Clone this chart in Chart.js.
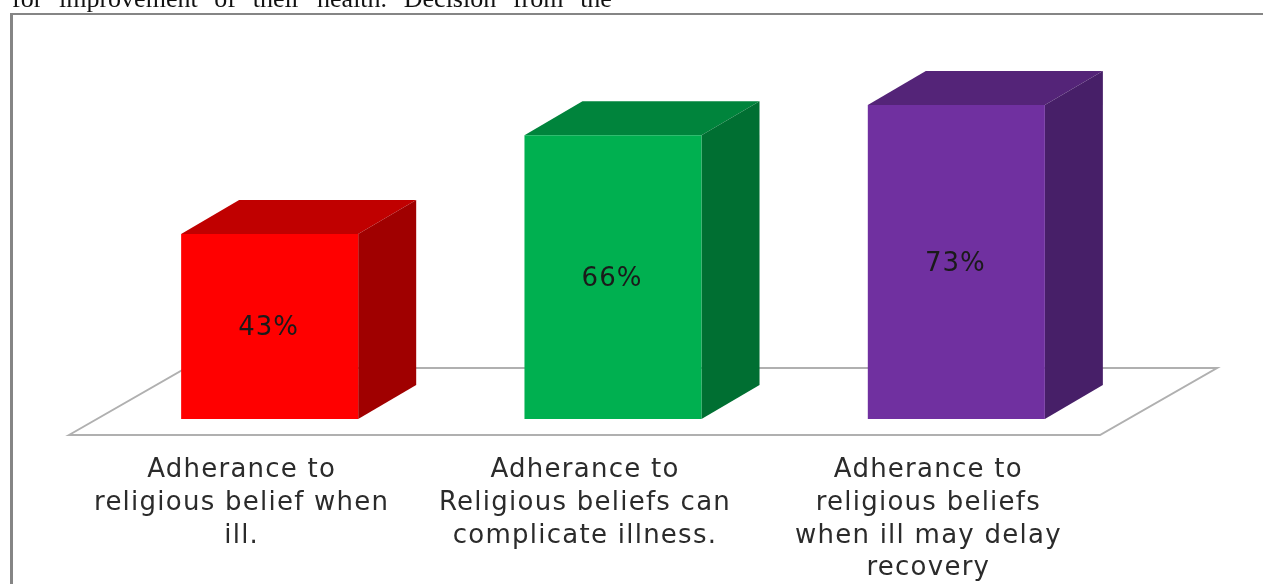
<!DOCTYPE html>
<html>
<head>
<meta charset="utf-8">
<style>
  html, body { margin: 0; padding: 0; background: #fff; overflow: hidden; }
  #page { position: relative; width: 1263px; height: 584px; overflow: hidden; }
  #lead { position: absolute; left: 12px; top: -16px; white-space: nowrap; color: #111;
          font: 26px "Liberation Serif", serif; word-spacing: 10.2px; }
  #frame { position: absolute; left: 10px; top: 13px; width: 1260px; height: 590px;
           border-top: 2px solid #858585; border-left: 3px solid #858585; }
  canvas { position: absolute; left: 0; top: 0; }
</style>
<script src="https://cdn.jsdelivr.net/npm/chart.js@4"></script>
</head>
<body>
<div id="page">
  <canvas id="chart" width="1263" height="584"></canvas>
  <div id="lead">for improvement of their health. Decision from the</div>
  <div id="frame"></div>
</div>
<script>
const categories = [
  ["Adherance to", "religious belief when", "ill."],
  ["Adherance to", "Religious beliefs can", "complicate illness."],
  ["Adherance to", "religious beliefs", "when ill may delay", "recovery"]
];
const percentages = [43, 66, 73];
const frontColors = ["#FF0000", "#00B050", "#7030A0"];
const topColors = ["#C00000", "#00843C", "#542478"];
const sideColors = ["#A00000", "#006F32", "#471F68"];

const DEPTH_X = 58;
const DEPTH_Y = 34;
const TEXT_TRACKING = "1.25px";

function polygon(ctx, points, fill) {
  ctx.beginPath();
  points.forEach(([x, y], i) => (i ? ctx.lineTo(x, y) : ctx.moveTo(x, y)));
  ctx.closePath();
  ctx.fillStyle = fill;
  ctx.fill();
}

// Floor plane under the columns, plus the top and side faces of each column.
const columnsIn3d = {
  id: "columnsIn3d",
  beforeLayout(chart) {
    chart.ctx.letterSpacing = TEXT_TRACKING;
  },
  beforeDatasetsDraw(chart) {
    const { ctx, chartArea } = chart;
    const front = chartArea.bottom + 16;
    const back = chartArea.bottom - 51;
    ctx.save();
    ctx.beginPath();
    ctx.moveTo(chartArea.left - 29, front);
    ctx.lineTo(chartArea.left + 88, back);
    ctx.lineTo(chartArea.right + 89, back);
    ctx.lineTo(chartArea.right - 28, front);
    ctx.closePath();
    ctx.strokeStyle = "#b0b0b0";
    ctx.lineWidth = 2;
    ctx.stroke();

    chart.getDatasetMeta(0).data.forEach((bar, i) => {
      const half = bar.width / 2;
      const l = bar.x - half, r = bar.x + half, t = bar.y, b = bar.base;
      polygon(ctx, [[l, t], [l + DEPTH_X, t - DEPTH_Y], [r + DEPTH_X, t - DEPTH_Y], [r, t]], topColors[i]);
      polygon(ctx, [[r, t], [r + DEPTH_X, t - DEPTH_Y], [r + DEPTH_X, b - DEPTH_Y], [r, b]], sideColors[i]);
    });
    ctx.restore();
  },
  afterDatasetsDraw(chart) {
    const { ctx } = chart;
    ctx.save();
    ctx.letterSpacing = "1px";
    ctx.font = '26px "DejaVu Sans", sans-serif';
    ctx.fillStyle = "#1a1a1a";
    ctx.textAlign = "center";
    ctx.textBaseline = "middle";
    chart.getDatasetMeta(0).data.forEach((bar, i) => {
      ctx.fillText(percentages[i] + "%", bar.x - 1, (bar.y + bar.base) / 2 + 2);
    });
    ctx.restore();
  }
};

new Chart(document.getElementById("chart"), {
  type: "bar",
  data: {
    labels: categories,
    datasets: [{
      data: percentages,
      backgroundColor: frontColors,
      borderWidth: 0,
      barPercentage: 0.5157,
      categoryPercentage: 1
    }]
  },
  options: {
    responsive: false,
    animation: false,
    layout: { padding: { left: 98, right: 135, top: 32, bottom: 0 } },
    plugins: { legend: { display: false }, tooltip: { enabled: false } },
    scales: {
      y: { display: false, min: 0, max: 90 },
      x: {
        grid: { display: false },
        border: { display: false },
        afterFit(scale) { scale.height = 165; },
        ticks: {
          autoSkip: false,
          maxRotation: 0,
          minRotation: 0,
          padding: 27,
          labelOffset: -28,
          color: "#2b2b2b",
          font: { family: '"DejaVu Sans", sans-serif', size: 26, lineHeight: 1.26 }
        }
      }
    }
  },
  plugins: [columnsIn3d]
});
</script>
</body>
</html>
